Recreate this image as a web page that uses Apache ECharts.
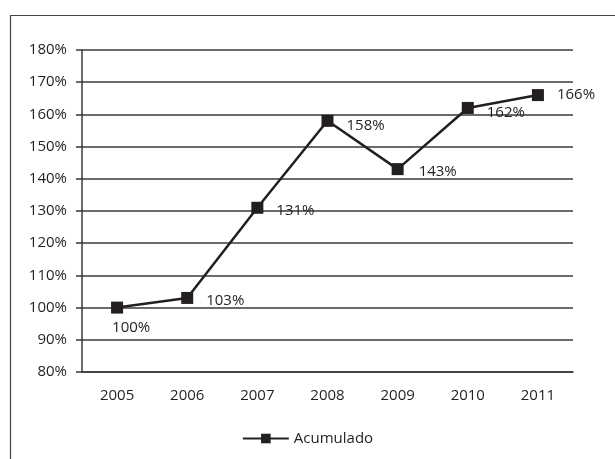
<!DOCTYPE html>
<html>
<head>
<meta charset="utf-8">
<script src="https://cdn.jsdelivr.net/npm/echarts@6/dist/echarts.min.js"></script>
<style>
  html, body { margin: 0; padding: 0; background: #fff; }
  #chart { width: 615px; height: 459px; }
</style>
</head>
<body>
<div id="chart"></div>
<script>
const years = ['2005', '2006', '2007', '2008', '2009', '2010', '2011'];
const acumulado = [100, 103, 131, 158, 143, 162, 166];
const seriesName = 'Acumulado';

// label placement per point (right of marker, nudged)
const labelOffsets = [[-16, 20], [8, 3], [8, 3], [8, 5], [10, 3], [8, 5], [8, 0]];

const ink = '#231f20';
const font = 'Open Sans';
const fs = 15;

const chart = echarts.init(document.getElementById('chart'));
chart.setOption({
  animation: false,
  textStyle: { fontFamily: font },
  graphic: [{
    type: 'rect',
    left: 8, top: 13,
    shape: { width: 640, height: 480 },
    style: { fill: 'none', stroke: '#444', lineWidth: 1.2 }
  }],
  grid: { left: 82, right: 42, top: 50, bottom: 87 },
  legend: {
    bottom: 8,
    left: 'center',
    itemWidth: 46,
    itemHeight: 12,
    itemGap: 4,
    textStyle: { color: ink, fontSize: fs, fontFamily: font },
    data: [seriesName]
  },
  xAxis: {
    type: 'category',
    data: years,
    boundaryGap: true,
    axisLine: { show: true, lineStyle: { color: '#3a3a3a', width: 1.5 } },
    axisTick: { show: false },
    axisLabel: { color: ink, fontSize: fs, margin: 16 }
  },
  yAxis: {
    type: 'value',
    min: 80, max: 180, interval: 10,
    axisLine: { show: true, lineStyle: { color: '#3a3a3a', width: 1.5 } },
    axisTick: { show: true, length: 6, lineStyle: { color: '#3a3a3a', width: 1.5 } },
    axisLabel: { color: ink, fontSize: fs, margin: 15, formatter: '{value}%' },
    splitLine: { show: true, lineStyle: { color: '#3a3a3a', width: 1.5 } }
  },
  series: [{
    name: seriesName,
    type: 'line',
    data: acumulado.map((v, i) => ({
      value: v,
      label: { offset: labelOffsets[i] }
    })),
    symbol: 'rect',
    symbolSize: 12,
    itemStyle: { color: ink },
    lineStyle: { color: ink, width: 2.5 },
    label: {
      show: true,
      position: 'right',
      color: ink,
      fontSize: fs,
      formatter: p => p.value + '%'
    }
  }]
});
</script>
</body>
</html>
